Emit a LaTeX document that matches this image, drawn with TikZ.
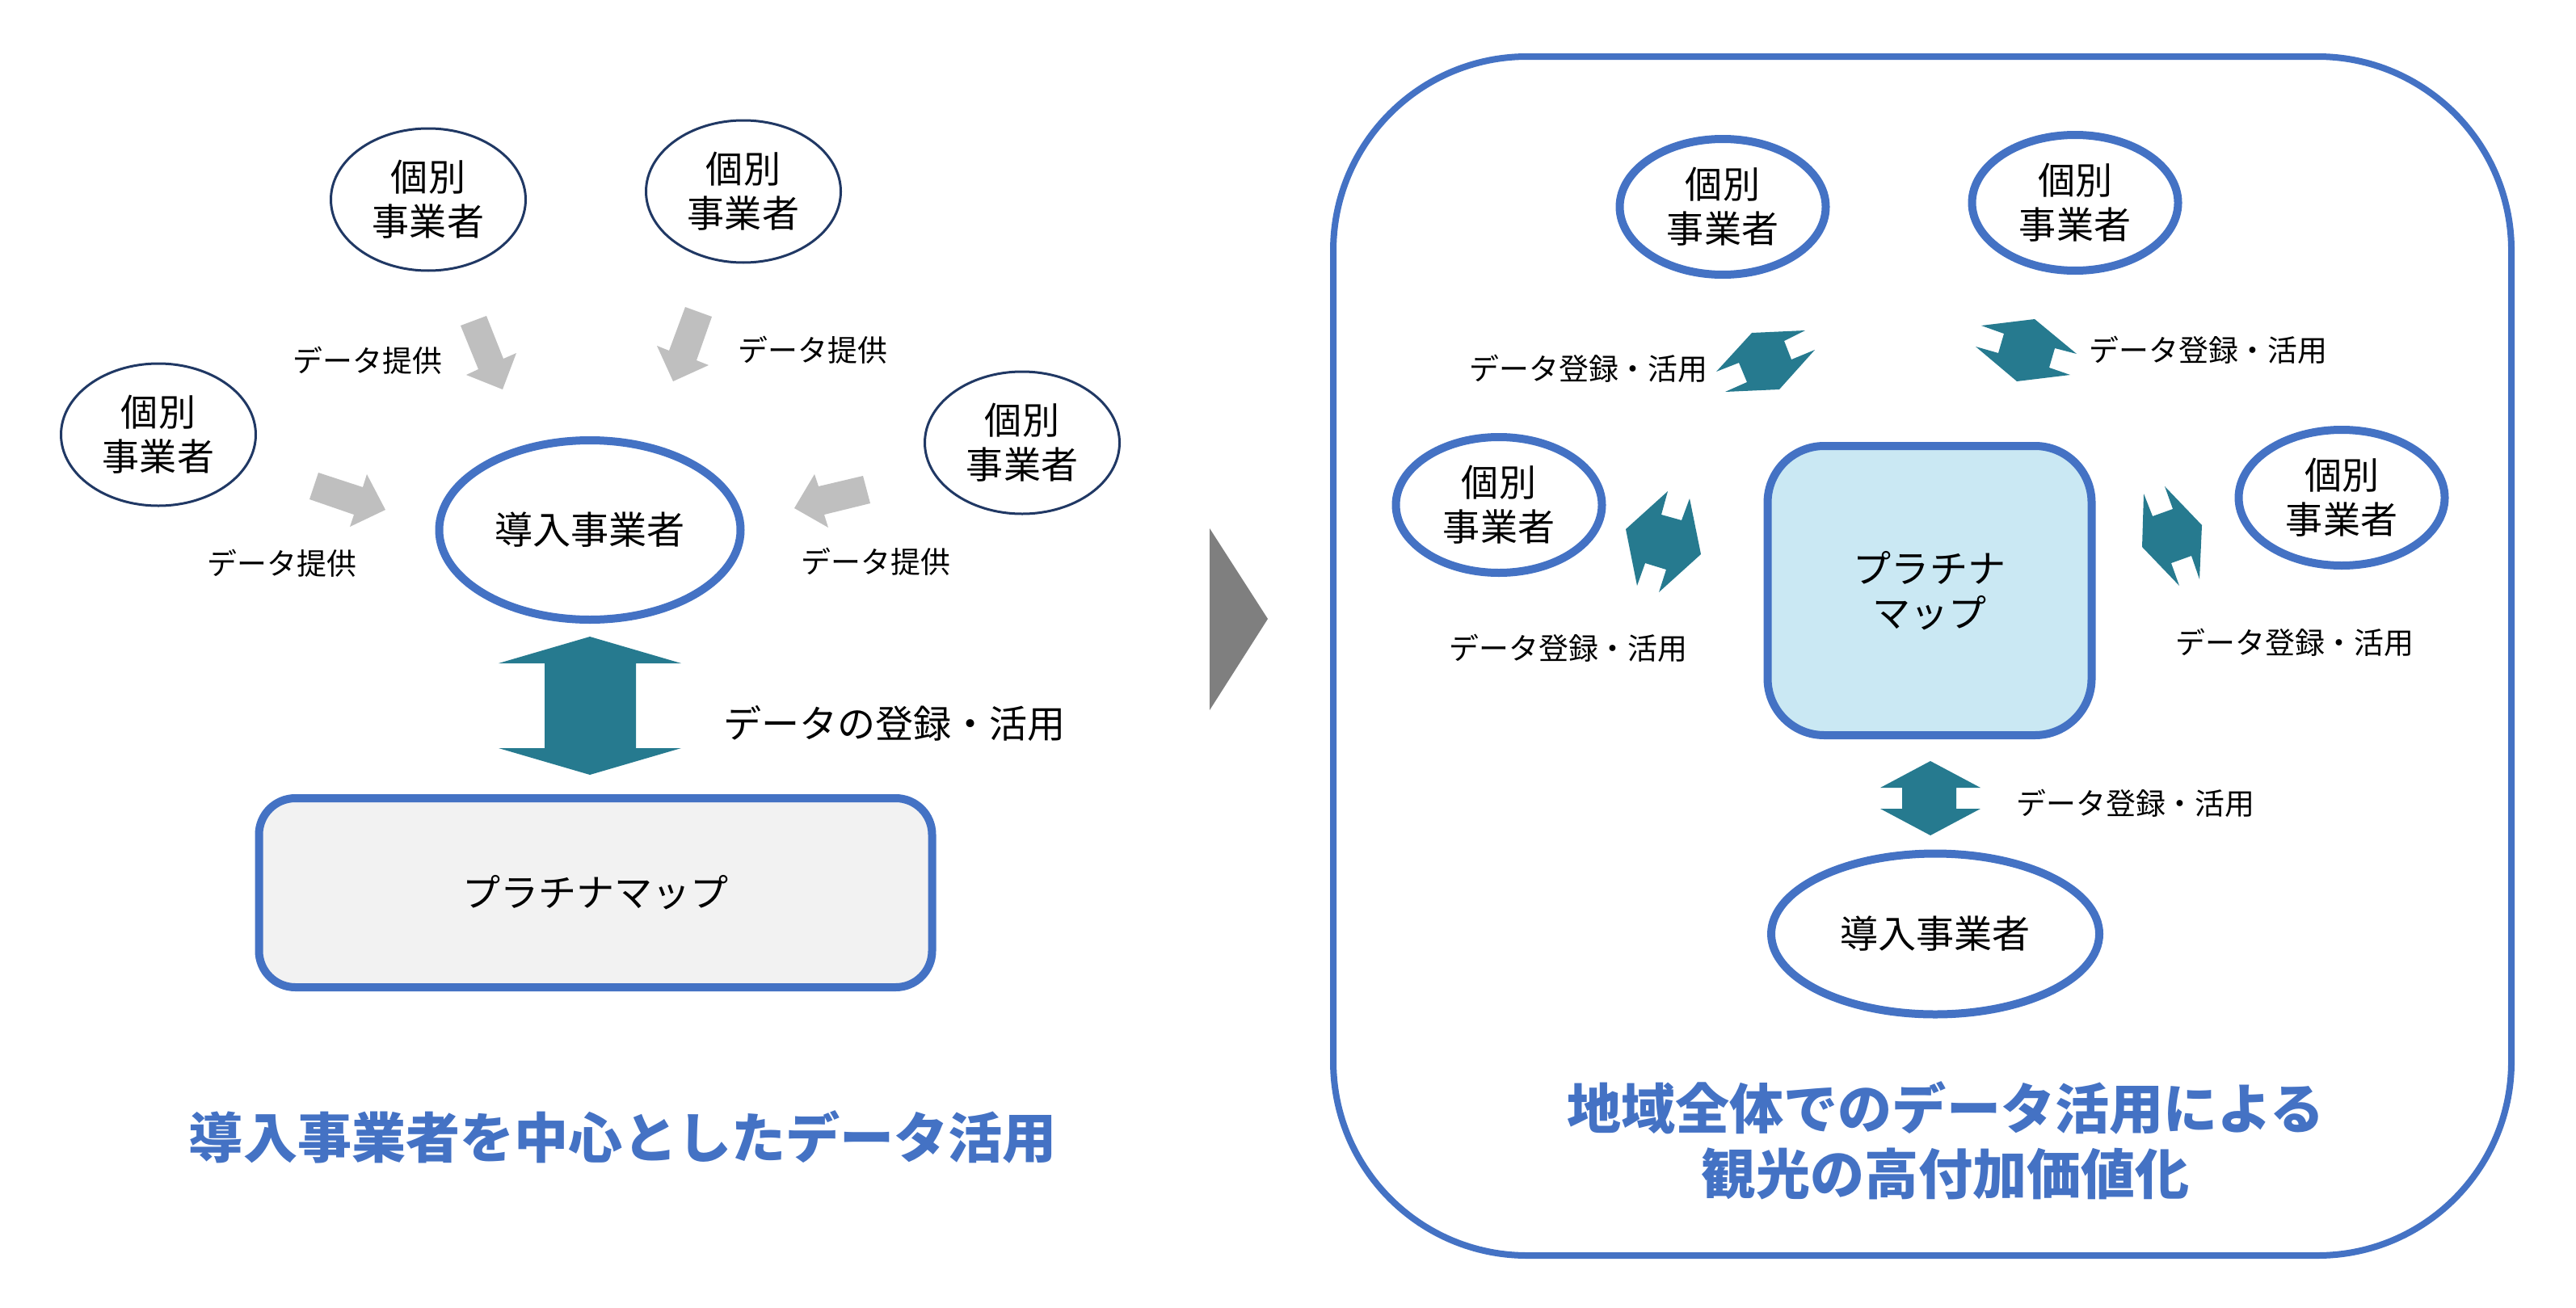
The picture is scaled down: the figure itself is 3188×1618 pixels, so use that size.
\documentclass[tikz,border=0pt]{standalone}
\usepackage{fontspec}
\setmainfont{Noto Sans CJK JP}
\usetikzlibrary{shapes.geometric}
\definecolor{hubblue}{HTML}{4472C4}
\definecolor{navyline}{HTML}{203864}
\definecolor{tealarr}{HTML}{267A8F}
\definecolor{grayarr}{HTML}{BFBFBF}
\definecolor{chevgray}{HTML}{7F7F7F}
\definecolor{mapfill}{HTML}{CAE8F3}
\definecolor{boxfill}{HTML}{F2F2F2}
\begin{document}
\begin{tikzpicture}[x=0.1mm,y=-0.1mm,
	indiv/.style={ellipse,draw=navyline,line width=0.3mm,inner sep=0pt,minimum width=24.1mm,minimum height=17.6mm,align=center,font=\fontsize{13.1}{15.6}\selectfont},
	indivb/.style={indiv,draw=hubblue,line width=1mm,minimum width=25.5mm,minimum height=16.8mm},
	hub/.style={ellipse,draw=hubblue,line width=1mm,inner sep=0pt,font=\fontsize{13.4}{16}\selectfont},
	mapbox/.style={rectangle,draw=hubblue,line width=1mm,inner sep=0pt,align=center,font=\fontsize{13.4}{15.6}\selectfont},
	lbl/.style={inner sep=0pt,font=\fontsize{10.5}{12}\selectfont},
	title/.style={inner sep=0pt,align=center,text=hubblue,font=\fontsize{19.1}{23}\selectfont\bfseries},
	garrow/.style={fill=grayarr},
	tarrow/.style={fill=tealarr}]
	\useasboundingbox (0,0) rectangle (3188,1618);
	% left: data around the adopter
	\node[indiv] (indA) at (530,247) {個別\\事業者};
	\node[indiv] (indB) at (920,237) {個別\\事業者};
	\node[indiv] (indC) at (196,538) {個別\\事業者};
	\node[indiv] (indD) at (1265,548) {個別\\事業者};
	\node[hub,minimum width=37.3mm,minimum height=22.2mm] (hubL) at (730,656) {導入事業者};
	\node[mapbox,fill=boxfill,rounded corners=4.5mm,minimum width=83.3mm,minimum height=23.4mm] (mapL) at (737,1105) {プラチナマップ};
	\fill[garrow] (570,403) -- (602,391) -- (623,444) -- (639,437) -- (622,482) -- (577,464) -- (592,457) -- cycle;
	\fill[garrow] (848,380) -- (881,392) -- (862,446) -- (877,452) -- (833,472) -- (813,428) -- (828,434) -- cycle;
	\fill[garrow] (394,585) -- (449,603) -- (454,587) -- (477,631) -- (433,652) -- (438,637) -- (383,618) -- cycle;
	\fill[garrow] (1068,589) -- (1077,623) -- (1020,637) -- (1025,653) -- (983,629) -- (1008,587) -- (1013,602) -- cycle;
	\node[lbl] (lblA) at (455,446) {データ提供};
	\node[lbl] (lblB) at (1006,433) {データ提供};
	\node[lbl] (lblC) at (349,697) {データ提供};
	\node[lbl] (lblD) at (1084,695) {データ提供};
	\fill[tarrow] (730,788) -- (843,821) -- (787,821) -- (787,926) -- (843,926) -- (730,959)
		-- (617,926) -- (674,926) -- (674,821) -- (617,821) -- cycle;
	\node[lbl,font=\fontsize{13.4}{16}\selectfont] (lblMain) at (1107,895) {データの登録・活用};
	\node[title] (titleL) at (771,1407) {導入事業者を中心としたデータ活用};
	% chevron
	\fill[chevgray] (1497,654) -- (1569,766) -- (1497,879) -- cycle;
	% right: whole region
	\node[draw=hubblue,line width=0.8mm,rounded corners=24mm,minimum width=145.8mm,minimum height=148.4mm] (frame) at (2379,812) {};
	\node[indivb] (indR1) at (2132,256) {個別\\事業者};
	\node[indivb] (indR2) at (2568,251) {個別\\事業者};
	\node[indivb] (indR3) at (1855,625) {個別\\事業者};
	\node[indivb] (indR4) at (2898,616) {個別\\事業者};
	\node[mapbox,fill=mapfill,rounded corners=7mm,minimum width=40.1mm,minimum height=35.8mm] (mapR) at (2388,731) {プラチナ\\マップ};
	\node[hub,minimum width=40.6mm,minimum height=19.9mm] (hubR) at (2395,1156) {導入事業者};
	\fill[tarrow] (2168,412) -- (2234,409) -- (2208,422) -- (2217,445) -- (2246,433) -- (2202,482)
		-- (2135,485) -- (2162,473) -- (2152,449) -- (2124,460) -- cycle;
	\fill[tarrow] (2452,403) -- (2518,395) -- (2570,438) -- (2543,431) -- (2536,455) -- (2562,464)
		-- (2496,472) -- (2445,429) -- (2473,437) -- (2480,413) -- cycle;
	\fill[tarrow] (2064,608) -- (2056,637) -- (2081,644) -- (2091,617) -- (2105,686) -- (2053,733)
		-- (2062,705) -- (2036,697) -- (2026,725) -- (2012,655) -- cycle;
	\fill[tarrow] (2679,602) -- (2725,650) -- (2722,717) -- (2712,688) -- (2687,697) -- (2697,725)
		-- (2651,677) -- (2653,611) -- (2664,639) -- (2689,630) -- cycle;
	\fill[tarrow] (2389,942) -- (2451,975) -- (2421,975) -- (2421,1001) -- (2451,1001) -- (2389,1034)
		-- (2327,1001) -- (2354,1001) -- (2354,975) -- (2327,975) -- cycle;
	\node[lbl] (lblR1) at (1966,456) {データ登録・活用};
	\node[lbl] (lblR2) at (2733,433) {データ登録・活用};
	\node[lbl] (lblR3) at (1941,802) {データ登録・活用};
	\node[lbl] (lblR4) at (2840,795) {データ登録・活用};
	\node[lbl] (lblR5) at (2643,994) {データ登録・活用};
	\node[title] (titleR) at (2408,1412) {地域全体でのデータ活用による\\観光の高付加価値化};
\end{tikzpicture}
\end{document}
